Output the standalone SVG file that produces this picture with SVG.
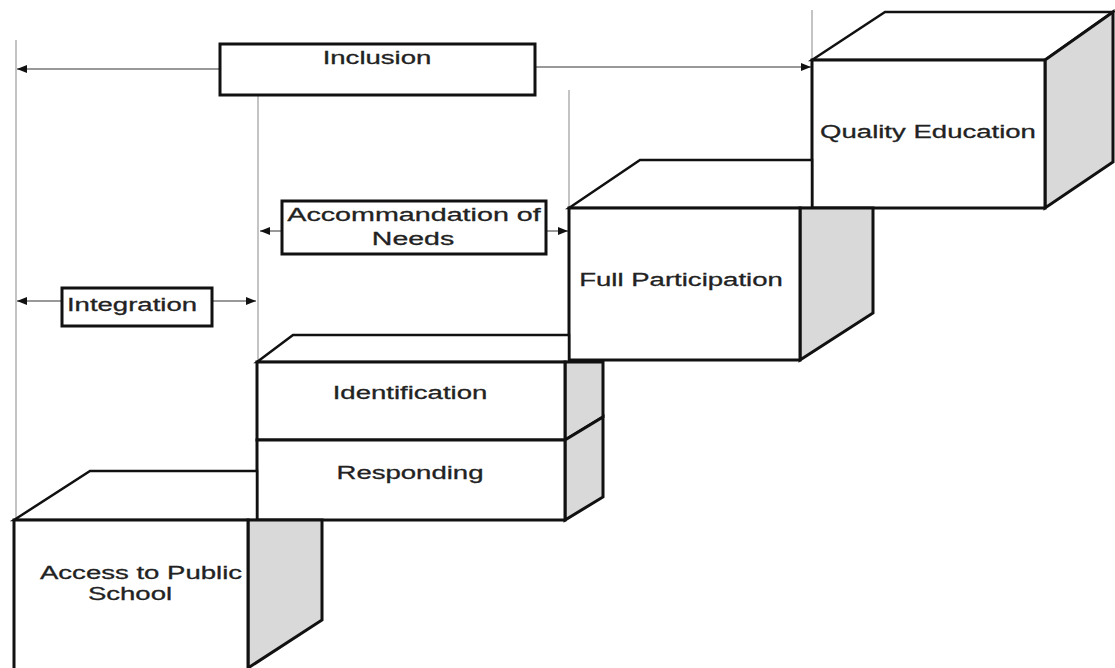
<svg xmlns="http://www.w3.org/2000/svg" width="1115" height="668" viewBox="0 0 1115 668">
<style>
.guide{stroke:#b0b0b0;stroke-width:1.5;fill:none}
.conn{stroke:#777;stroke-width:1.5;fill:none}
.box{fill:#fff;stroke:#111;stroke-width:3;stroke-linejoin:miter}
.side{fill:#d9d9d9;stroke:#111;stroke-width:3;stroke-linejoin:miter}
.top{fill:#fff;stroke:#111;stroke-width:2.5;stroke-linejoin:miter}
.lbl{fill:#fff;stroke:#111;stroke-width:3}
text{font-family:"Liberation Sans",Arial,sans-serif;font-size:19px;fill:#222;text-anchor:middle;stroke:#222;stroke-width:0.3}
</style>
<defs>
<marker id="ah" viewBox="0 0 10 10" refX="10" refY="5" markerWidth="10" markerHeight="10" markerUnits="userSpaceOnUse" orient="auto-start-reverse">
<path d="M0,1 L10,5 L0,9 Z" fill="#111"/>
</marker>
</defs>
<rect width="1115" height="668" fill="#fff"/>
<g id="guides">
<line class="guide" x1="16" y1="40" x2="16" y2="520"/>
<line class="guide" x1="258" y1="95" x2="258" y2="362"/>
<line class="guide" x1="569" y1="90" x2="569" y2="208"/>
<line class="guide" x1="812" y1="10" x2="812" y2="60"/>
</g>
<g id="connectors">
<line class="conn" x1="220" y1="69" x2="17" y2="69" marker-end="url(#ah)"/>
<line class="conn" x1="535" y1="67" x2="811" y2="67" marker-end="url(#ah)"/>
<line class="conn" x1="282" y1="231" x2="260" y2="231" marker-end="url(#ah)"/>
<line class="conn" x1="546" y1="231" x2="568" y2="231" marker-end="url(#ah)"/>
<line class="conn" x1="62" y1="301" x2="17" y2="301" marker-end="url(#ah)"/>
<line class="conn" x1="212" y1="301" x2="256" y2="301" marker-end="url(#ah)"/>
</g>
<g id="inclusion">
<rect class="lbl" x="220" y="44" width="315" height="51"/>
<text transform="translate(377,64) scale(1.45,1)">Inclusion</text>
</g>
<g id="accommodation">
<rect class="lbl" x="282" y="201" width="264" height="53"/>
<text transform="translate(414,221) scale(1.51,1)">Accommandation of</text>
<text transform="translate(413,245) scale(1.5,1)">Needs</text>
</g>
<g id="integration">
<rect class="lbl" x="62" y="288" width="150" height="38"/>
<text transform="translate(132,311) scale(1.45,1)">Integration</text>
</g>
<g id="quality-education">
<polygon class="top" points="812,60 885,12 1113,12 1045,60"/>
<polygon class="side" points="1045,60 1113,12 1113,162 1045,208"/>
<rect class="box" x="812" y="60" width="233" height="148"/>
<text transform="translate(928,138) scale(1.45,1)">Quality Education</text>
</g>
<g id="full-participation">
<polygon class="top" points="569,208 640,160 812,160 812,208"/>
<polygon class="side" points="800,208 873,208 873,313 800,360"/>
<rect class="box" x="569" y="208" width="231" height="152"/>
<text transform="translate(681,286) scale(1.45,1)">Full Participation</text>
</g>
<g id="identification">
<polygon class="top" points="257,362 293,335 569,335 569,362"/>
<polygon class="side" points="565,362 603,362 603,417 565,440"/>
<rect class="box" x="257" y="362" width="308" height="78"/>
<text transform="translate(410,399) scale(1.45,1)">Identification</text>
</g>
<g id="responding">
<polygon class="side" points="565,440 603,417 603,497 565,520"/>
<rect class="box" x="257" y="440" width="308" height="80"/>
<text transform="translate(410,479) scale(1.45,1)">Responding</text>
</g>
<g id="access">
<polygon class="top" points="14,520 90,471 257,471 257,520"/>
<polygon class="side" points="248,520 322,520 322,620 248,668"/>
<rect class="box" x="14" y="520" width="234" height="160"/>
<text transform="translate(141,579) scale(1.45,1)">Access to Public</text>
<text transform="translate(130,600) scale(1.45,1)">School</text>
</g>
</svg>
